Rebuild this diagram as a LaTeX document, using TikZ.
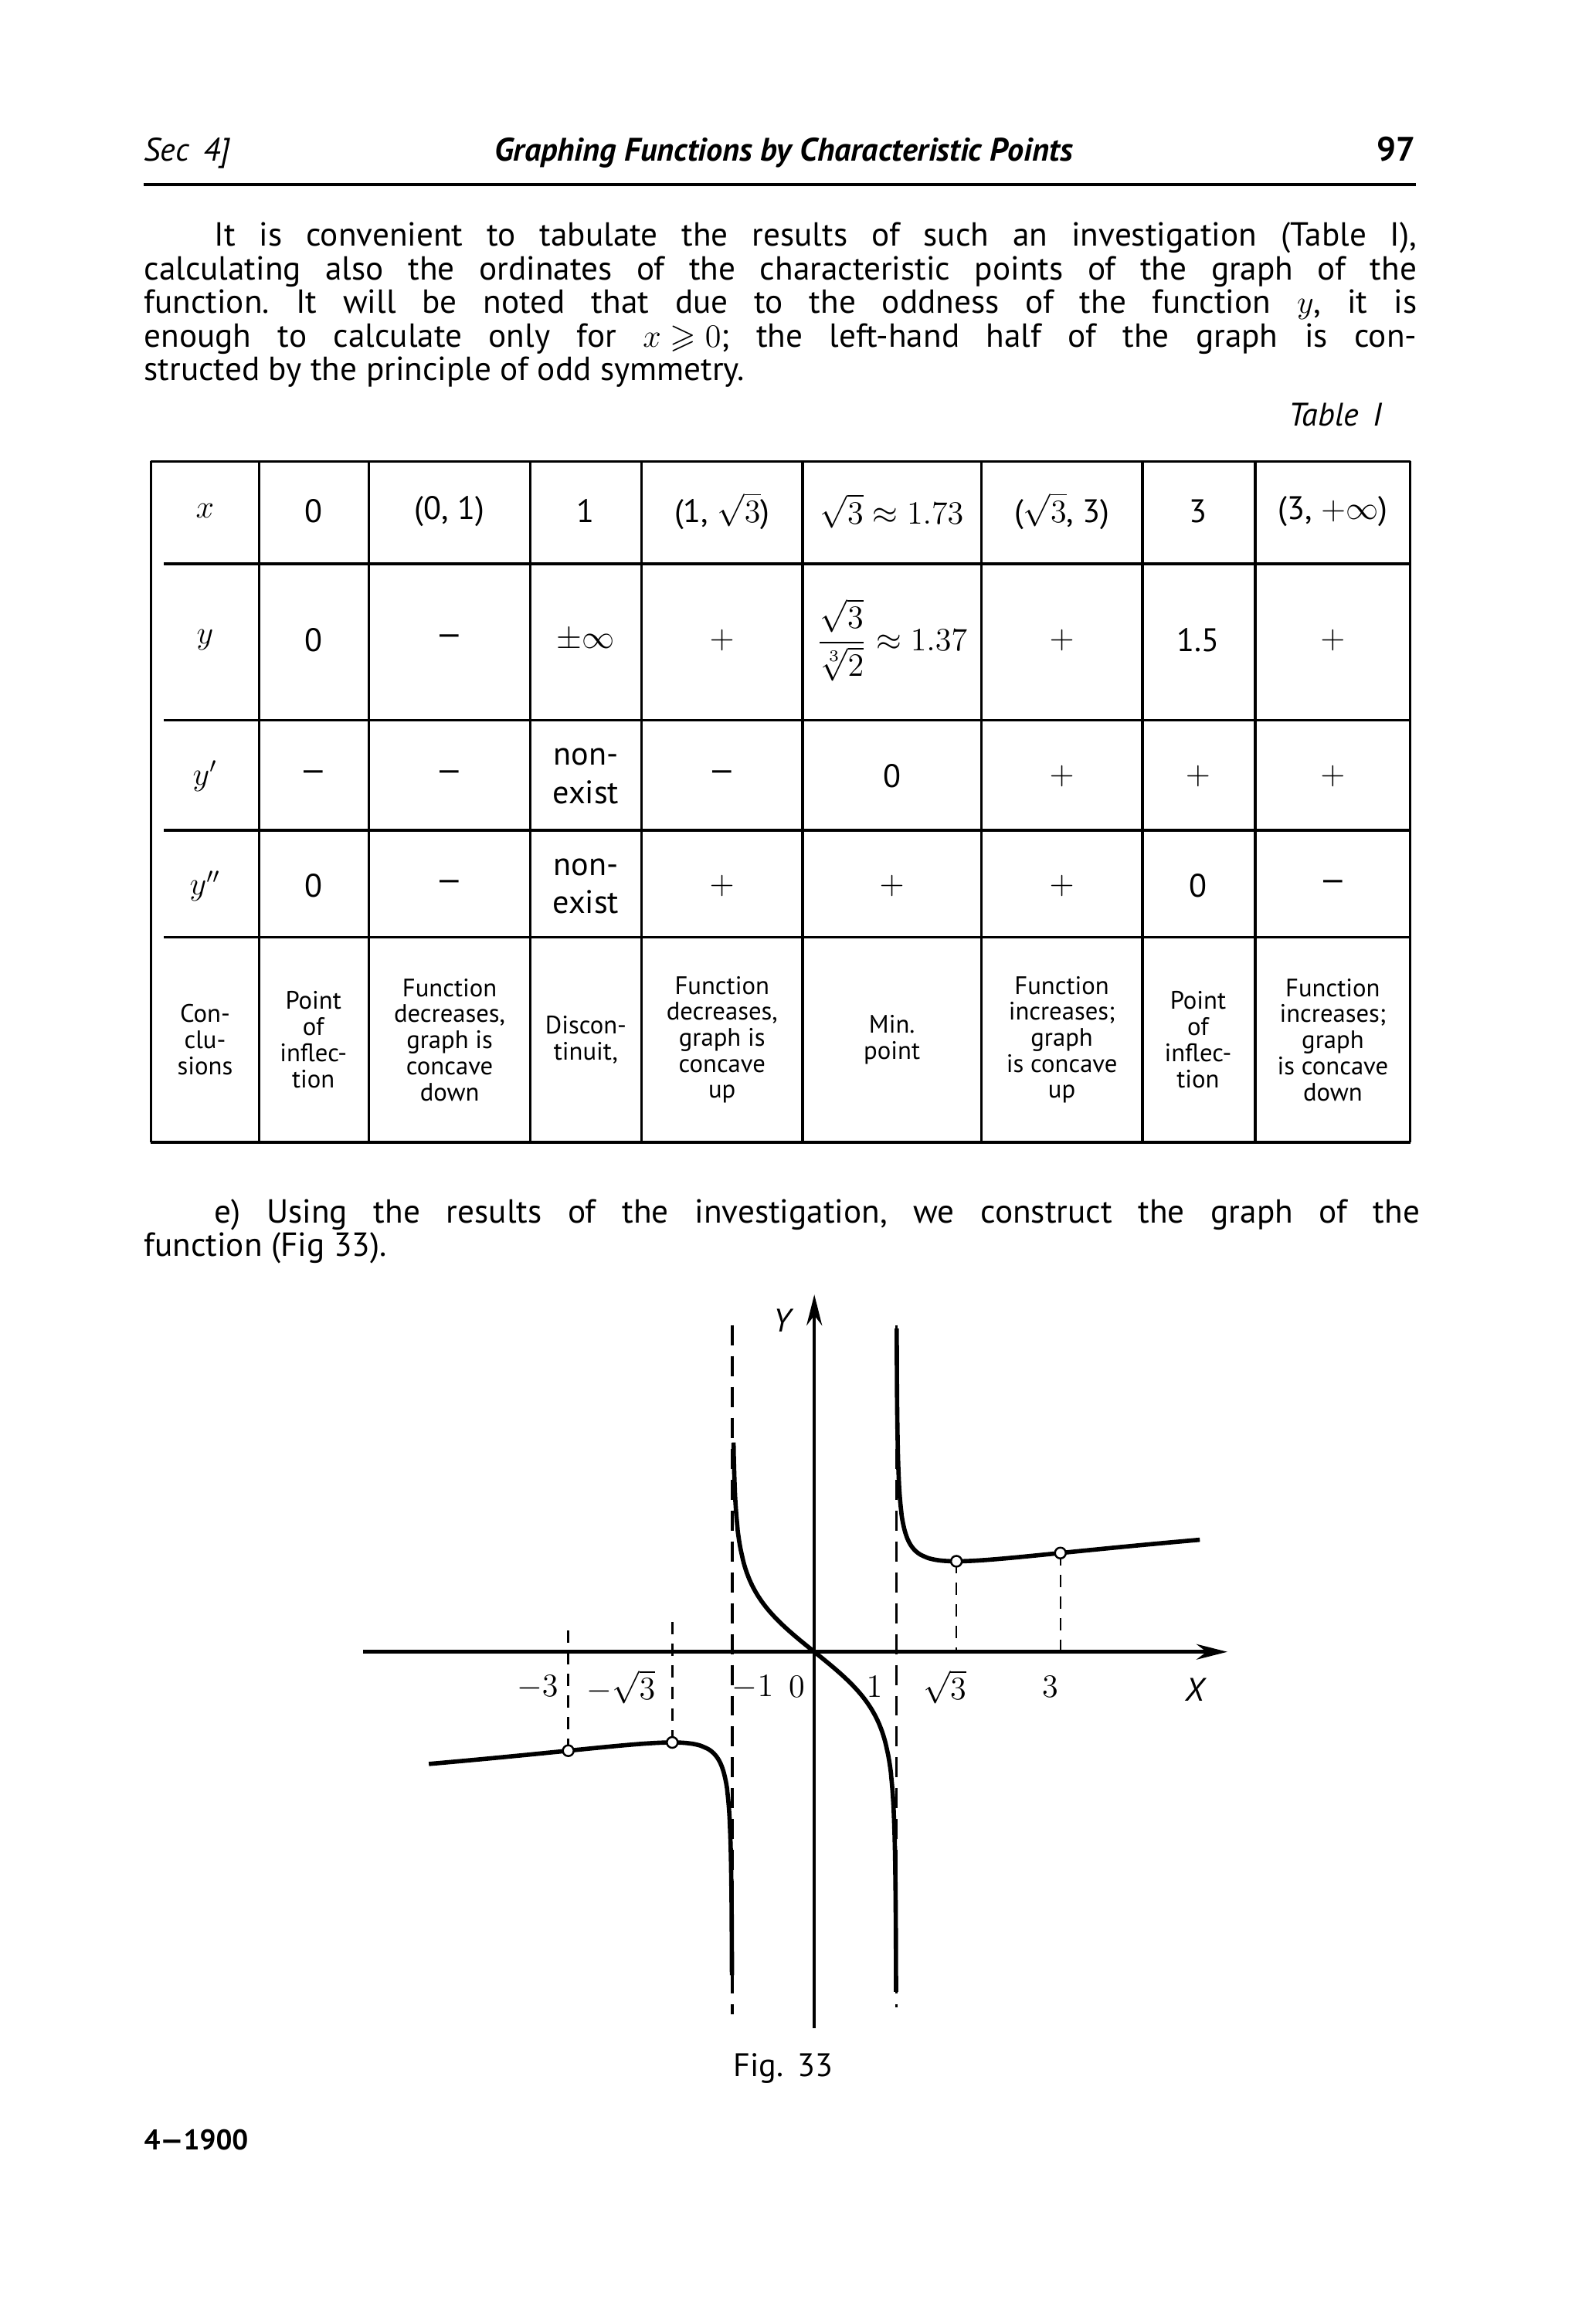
\documentclass[tikz,border=0pt]{standalone}
\usepackage{amsmath,amssymb}
\usepackage{fontspec}
\setmainfont{PT Sans}
\setsansfont{PT Sans}
\usetikzlibrary{arrows.meta}
\frenchspacing
\tikzset{
  txt/.style={font=\fontsize{12.3}{14}\selectfont, inner sep=0pt},
  cell/.style={font=\fontsize{12}{14}\selectfont, align=center, inner sep=0pt},
  small/.style={font=\sffamily\fontsize{9.3}{9.6}\selectfont, align=center, inner sep=0pt},
  grid/.style={line width=0.9pt},
  curve/.style={line width=1.6pt},
  asym/.style={line width=0.9pt, dash pattern=on 2.6mm off 1.4mm},
  drop/.style={line width=0.7pt, dash pattern=on 1.6mm off 1.2mm},
  pt/.style={circle, draw, fill=white, inner sep=0pt, minimum size=1.4mm, line width=0.7pt}
}
\newcommand{\tline}[4]{\node[txt, anchor=base west] (#1) at #2 {\frenchspacing\makebox[#3][s]{#4}};}
\begin{document}
\begin{tikzpicture}[x=0.18963mm, y=-0.18963mm,
  declare function={f(\t)=\t/(sign(\t*\t-1)*pow(abs(\t*\t-1),1/3));}]
\useasboundingbox (0,0) rectangle (1080,1587);
% header
\node[txt, anchor=base west, font=\itshape\fontsize{12}{13}\selectfont] (sec) at (98,110) {Sec \,4]};
\node[txt, anchor=base, font=\bfseries\itshape\fontsize{12}{13}\selectfont] (title) at (535,110) {Graphing Functions by Characteristic Points};
\node[txt, anchor=base east, font=\bfseries\fontsize{12.5}{13}\selectfont] (pg) at (967,110) {97};
\coordinate (r1) at (98,126); \coordinate (r2) at (967,126);
\draw[line width=1pt] (r1) -- (r2);
% paragraph
\tline{p1}{(146,168)}{155.7mm}{It is convenient to tabulate the results of such an investigation (Table I),}
\tline{p2}{(98,191)}{164.8mm}{calculating also the ordinates of the characteristic points of the graph of the}
\tline{p3}{(98,214)}{164.8mm}{function. It will be noted that due to the oddness of the function \mbox{$y$}, it is}
\tline{p4}{(98,237)}{164.8mm}{enough to calculate only for \mbox{$x\geqslant 0$}; the left-hand half of the graph is con-}
\node[txt, anchor=base west] (p5) at (98,260) {structed by the principle of odd symmetry.};
\node[txt, anchor=base east, font=\itshape\fontsize{12}{13}\selectfont] (tab) at (944,291) {Table \,I};
% table grid
\draw[grid] (103,315) -- (963,315);
\draw[line width=1.2pt] (103,780) -- (963,780);
\foreach \yy in {385,492,567,640} \draw[grid] (112,\yy) -- (963,\yy);
\foreach \xx in {103,177,252,362,438,548,670,780,857,963} \draw[grid] (\xx,315) -- (\xx,780);
% rows
\foreach \cx/\t [count=\i] in {140/$x$,214/0,307/{(0, 1)},400/1,493/{(1, $\sqrt{3}$)},609/{$\sqrt{3}\approx1.73$},725/{($\sqrt{3}$, 3)},818/3,910/{(3, $+\infty$)}}
  \node[cell] (a\i) at (\cx,349) {\t};
\foreach \cx/\t [count=\i] in {140/$y$,214/0,307/---,400/$\pm\infty$,493/$+$,609/{$\dfrac{\sqrt{3}}{\sqrt[3]{2}}\approx1.37$},725/$+$,818/1.5,910/$+$}
  \node[cell] (b\i) at (\cx,437) {\t};
\foreach \cx/\t [count=\i] in {140/$y'$,214/---,307/---,400/{non-\\exist},493/---,609/0,725/$+$,818/$+$,910/$+$}
  \node[cell] (c\i) at (\cx,530) {\t};
\foreach \cx/\t [count=\i] in {140/$y''$,214/0,307/---,400/{non-\\exist},493/$+$,609/$+$,725/$+$,818/0,910/---}
  \node[cell] (d\i) at (\cx,605) {\t};
\foreach \cx/\t [count=\i] in {140/{Con-\\clu-\\sions},214/{Point\\of\\inflec-\\tion},307/{Function\\decreases,\\graph is\\concave\\down},400/{Discon-\\tinuit,},493/{Function\\decreases,\\graph is\\concave\\up},609/{Min.\\point},725/{Function\\increases;\\graph\\is concave\\up},818/{Point\\of\\inflec-\\tion},910/{Function\\increases;\\graph\\is concave\\down}}
  \node[small] (e\i) at (\cx,710) {\t};
% text below table
\tline{q1}{(146,835)}{156.1mm}{e) Using the results of the investigation, we construct the graph of the}
\node[txt, anchor=base west] (q2) at (98,858) {function (Fig 33).};
% graph
\coordinate (xa) at (248,1128); \coordinate (xb) at (838,1128);
\coordinate (ya) at (556,1385); \coordinate (yb) at (556,884);
\draw[line width=1.3pt, -{Stealth[length=4mm,width=2mm]}] (xa) -- (xb);
\draw[line width=1.3pt, -{Stealth[length=4mm,width=2mm]}] (ya) -- (yb);
\node[txt, font=\itshape\fontsize{12}{13}\selectfont] (Y) at (534,902) {Y};
\node[txt, font=\itshape\fontsize{12}{13}\selectfont] (X) at (816,1154) {X};
\begin{scope}[shift={(556,1128)}, x=10.62mm, y=8.533mm]
  \draw[asym] (-1,4.96) -- (-1,-5.5);
  \draw[asym] (1,4.96) -- (1,-5.4);
  \draw[curve] plot[domain=1.0042:1.3, samples=80, smooth] (\x,{f(\x)}) -- plot[domain=1.3:4.7, samples=40, smooth] (\x,{f(\x)});
  \draw[curve] plot[domain=-1.0042:-1.3, samples=80, smooth] (\x,{f(\x)}) -- plot[domain=-1.3:-4.7, samples=40, smooth] (\x,{f(\x)});
  \draw[curve] plot[domain=-0.985:-0.9, samples=30, smooth] (\x,{f(\x)}) -- plot[domain=-0.9:0.9, samples=50, smooth] (\x,{f(\x)}) -- plot[domain=0.9:0.9966, samples=40, smooth] (\x,{f(\x)});
  \coordinate (P1) at ({sqrt(3)},{f(sqrt(3))});
  \coordinate (P2) at (3,1.5);
  \coordinate (P3) at ({-sqrt(3)},{-f(sqrt(3))});
  \coordinate (P4) at (-3,-1.5);
  \coordinate (Q1) at ({sqrt(3)},0); \coordinate (Q2) at (3,0);
  \coordinate (Q3) at ({-sqrt(3)},0.45); \coordinate (Q4) at (-3,0.45);
  \draw[drop] (P1) -- (Q1); \draw[drop] (P2) -- (Q2);
  \draw[drop] (P3) -- (Q3); \draw[drop] (P4) -- (Q4);
  \node[pt] (c1) at (P1) {}; \node[pt] (c2) at (P2) {};
  \node[pt] (c3) at (P3) {}; \node[pt] (c4) at (P4) {};
\end{scope}
\foreach \lx/\t [count=\i] in {367/$-3$,424/$-\sqrt{3}$,514/$-1$,544/$0$,597/$1$,645/$\sqrt{3}$,717/$3$}
  \node[txt, font=\itshape\fontsize{12}{13}\selectfont] (l\i) at (\lx,1152) {\t};
\node[txt, anchor=base, font=\fontsize{12}{13}\selectfont] (fig) at (535,1418) {Fig. \,33};
\node[txt, anchor=base west, font=\bfseries\fontsize{10.5}{12}\selectfont] (foot) at (98,1468) {4---1900};
\end{tikzpicture}
\end{document}
